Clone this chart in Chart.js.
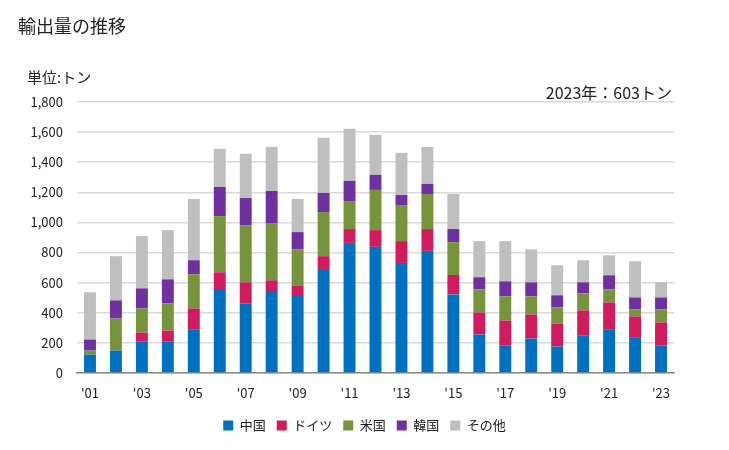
<!DOCTYPE html>
<html>
<head>
<meta charset="utf-8">
<script src="https://cdn.jsdelivr.net/npm/chart.js@4/dist/chart.umd.min.js"></script>
<style>
  body { margin: 0; padding: 0; background: #fff; font-family: "Noto Sans CJK JP", sans-serif; }
  #wrap { position: relative; width: 729px; height: 450px; }
  #myChart { position: absolute; left: 0; top: 0; }
  .txt { position: absolute; color: #222; white-space: nowrap; }
</style>
</head>
<body>
<div id="wrap">
  <canvas id="myChart" width="729" height="450"></canvas>
  <div class="txt" style="left:18px; top:12px; font-size:18px;">輸出量の推移</div>
  <div class="txt" style="left:27px; top:66px; font-size:15px;">単位:トン</div>
  <div class="txt" style="right:57px; top:80px; font-size:16px;">2023年：603トン</div>
</div>
<script>
// years on the x axis
const years = [2001, 2002, 2003, 2004, 2005, 2006, 2007, 2008, 2009, 2010, 2011, 2012,
  2013, 2014, 2015, 2016, 2017, 2018, 2019, 2020, 2021, 2022, 2023];

// tonnes per destination
const china   = [122, 149, 211, 211, 291, 558, 464, 544, 518, 691, 864, 838, 731, 811, 522, 256, 184, 229, 176, 251, 291, 238, 184];
const germany = [0, 0, 58, 71, 138, 111, 138, 72, 64, 85, 92, 111, 145, 145, 129, 146, 165, 160, 153, 165, 178, 138, 152];
const usa     = [27, 213, 160, 180, 227, 373, 380, 380, 240, 293, 186, 267, 240, 233, 218, 154, 160, 120, 107, 113, 87, 46, 86];
const korea   = [73, 120, 133, 160, 93, 194, 180, 213, 114, 127, 134, 100, 66, 67, 87, 80, 100, 93, 80, 73, 93, 80, 80];
const others  = [314, 294, 347, 327, 407, 253, 294, 293, 220, 366, 346, 266, 280, 246, 233, 240, 267, 220, 200, 147, 133, 240, 101];

const seriesNames = ["中国", "ドイツ", "米国", "韓国", "その他"];
const seriesColors = ["#0070c0", "#d01c5f", "#77933c", "#7030a0", "#bfbfbf"];
const yTicks = [0, 200, 400, 600, 800, 1000, 1200, 1400, 1600, 1800];

const ctx = document.getElementById("myChart").getContext("2d");
const allSeries = [china, germany, usa, korea, others];

new Chart(ctx, {
  type: "bar",
  data: {
    labels: years,
    datasets: allSeries.map((d, i) => ({
      label: seriesNames[i],
      data: d,
      backgroundColor: seriesColors[i],
      borderWidth: 0,
      categoryPercentage: 1,
      barPercentage: 0.46,
    })),
  },
  options: {
    responsive: false,
    animation: false,
    layout: { padding: { top: 102, right: 0, left: 0, bottom: 8 } },
    plugins: {
      title: { display: false },
      tooltip: { enabled: false },
      legend: {
        position: "bottom",
        labels: {
          boxWidth: 10,
          boxHeight: 10,
          padding: 11,
          color: "#222",
          font: { family: "Noto Sans CJK JP", size: 13 },
        },
      },
    },
    scales: {
      x: {
        stacked: true,
        grid: { display: false, drawTicks: false },
        border: { color: "#888", width: 1.5 },
        ticks: {
          autoSkip: false,
          maxRotation: 0,
          padding: 12,
          color: "#222",
          font: { family: "Noto Sans CJK JP", size: 13 },
          callback: function (v, i) {
            const y = years[i];
            return (y % 2 === 1) ? "'" + String(y).slice(2) : "";
          },
        },
        afterFit: function (scale) { scale.height = 35; },
      },
      y: {
        stacked: true,
        min: 0,
        max: 1800,
        afterBuildTicks: function (scale) { scale.ticks = yTicks.map(v => ({ value: v })); },
        grid: { color: "#d9d9d9", lineWidth: 1.5, drawTicks: false },
        border: { display: false },
        ticks: {
          padding: 14,
          color: "#222",
          font: { family: "Noto Sans CJK JP", size: 13 },
          callback: v => v.toLocaleString("en-US"),
        },
        afterFit: function (scale) { scale.width = 77; },
      },
      // empty right-hand spacer so the plot ends where the reference does
      yRight: {
        position: "right",
        min: 0,
        max: 1800,
        grid: { display: false, drawTicks: false },
        border: { display: false },
        ticks: { display: false },
        afterFit: function (scale) { scale.width = 55; },
      },
    },
  },
});
</script>
</body>
</html>
